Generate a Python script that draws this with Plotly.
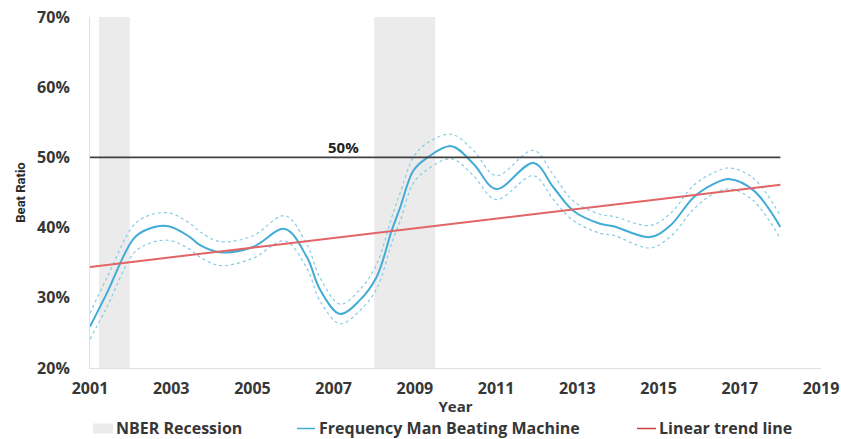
import plotly.graph_objects as go

# ---- data ----
years = [2001.0, 2001.41, 2002.07, 2002.39, 2002.93, 2003.46, 2003.71, 2004.2, 2005.0,
         2005.8, 2006.34, 2006.67, 2007.16, 2007.65, 2008.06, 2008.43, 2008.64, 2008.96,
         2009.29, 2009.9, 2010.44, 2011.0, 2011.92, 2012.41, 2012.9, 2013.56, 2013.89,
         2014.79, 2015.29, 2015.86, 2016.35, 2016.76, 2017.34, 2018.0]
beat = [25.9, 30.6, 38.4, 39.7, 40.2, 38.65, 37.5, 36.5, 37.2,
        39.8, 35.8, 31.1, 27.7, 29.7, 33.0, 39.6, 42.9, 48.1,
        49.9, 51.6, 49.1, 45.5, 49.2, 45.75, 42.4, 40.55, 40.2,
        38.65, 40.3, 44.3, 46.2, 46.9, 45.3, 40.1]
beat_upper = [27.8, 32.8, 40.3, 41.6, 42.1, 40.6, 39.4, 38.0, 38.8,
              41.7, 37.6, 32.8, 29.1, 31.2, 34.8, 41.5, 45.0, 50.0,
              52.0, 53.3, 51.0, 47.4, 51.0, 47.5, 43.8, 41.9, 41.6,
              40.3, 42.0, 46.0, 47.8, 48.5, 47.0, 41.7]
beat_lower = [24.1, 28.6, 36.3, 37.6, 38.2, 36.9, 35.8, 34.6, 35.6,
              38.1, 34.2, 29.5, 26.3, 28.2, 31.3, 37.8, 41.0, 46.3,
              48.2, 49.8, 47.4, 44.0, 47.4, 44.0, 41.0, 39.2, 38.9,
              37.1, 38.7, 42.6, 44.8, 45.5, 43.8, 38.4]
trend_years = [2001, 2018]
trend_vals = [34.4, 46.1]
ref_years = [2001, 2018]
ref_vals = [50, 50]
recession_start = [2001.22, 2008.0]
recession_end = [2001.98, 2009.5]
x_ticks = [2001, 2003, 2005, 2007, 2009, 2011, 2013, 2015, 2017, 2019]
y_ticks = [20, 30, 40, 50, 60, 70]

BLUE = "#42acd6"
BLUE_LIGHT = "#86cbe4"
RED = "#e26464"
GRAY_BAND = "#ebebeb"
TXT = "#363636"
FONT = "Open Sans"

fig = go.Figure()

fig.add_trace(go.Scatter(x=years, y=beat_upper, mode="lines", line=dict(color=BLUE_LIGHT, width=1.2, dash="dot", shape="spline", smoothing=1.0), showlegend=False, hoverinfo="skip"))
fig.add_trace(go.Scatter(x=years, y=beat_lower, mode="lines", line=dict(color=BLUE_LIGHT, width=1.2, dash="dot", shape="spline", smoothing=1.0), showlegend=False, hoverinfo="skip"))
fig.add_trace(go.Scatter(x=years, y=beat, mode="lines", name="Frequency Man Beating Machine", line=dict(color=BLUE, width=2, shape="spline", smoothing=1.0), showlegend=False))
fig.add_trace(go.Scatter(x=ref_years, y=ref_vals, mode="lines", line=dict(color="#404040", width=1.6), showlegend=False, hoverinfo="skip"))
fig.add_trace(go.Scatter(x=trend_years, y=trend_vals, mode="lines", name="Linear trend line", line=dict(color=RED, width=2), showlegend=False))

shapes = []
for s, e in zip(recession_start, recession_end):
    shapes.append(dict(type="rect", xref="x", yref="paper", x0=s, x1=e, y0=0, y1=1,
                       fillcolor=GRAY_BAND, line=dict(width=0), layer="below"))

# manual legend (paper coordinates from pixel layout: plot x 90..821, y 17..368)
def px_x(p):
    return (p - 90) / 731.0

def px_y(p):
    return (368 - p) / 351.0

ly = px_y(428)
sym_y = px_y(428.5)
shapes.append(dict(type="rect", xref="paper", yref="paper", x0=px_x(93), x1=px_x(113), y0=px_y(433.5), y1=px_y(423.5), fillcolor=GRAY_BAND, line=dict(width=0)))
shapes.append(dict(type="line", xref="paper", yref="paper", x0=px_x(297), x1=px_x(315), y0=sym_y, y1=sym_y, line=dict(color=BLUE, width=1.5)))
shapes.append(dict(type="line", xref="paper", yref="paper", x0=px_x(637), x1=px_x(656), y0=sym_y, y1=sym_y, line=dict(color="#d04040", width=1.5)))

legend_font = dict(family=FONT, size=16, color=TXT, weight="bold")
annotations = [
    dict(xref="paper", yref="paper", x=px_x(114), y=ly, text="NBER Recession", showarrow=False, xanchor="left", yanchor="middle", font=legend_font),
    dict(xref="paper", yref="paper", x=px_x(317), y=ly, text="Frequency Man Beating Machine", showarrow=False, xanchor="left", yanchor="middle", font=legend_font),
    dict(xref="paper", yref="paper", x=px_x(657), y=ly, text="Linear trend line", showarrow=False, xanchor="left", yanchor="middle", font=legend_font),
    dict(xref="x", yref="y", x=2007.25, y=50, yshift=10, text="50%", showarrow=False, xanchor="center", yanchor="middle", font=dict(family=FONT, size=15, color="#222222", weight="bold")),
]

fig.update_layout(
    width=841, height=439,
    margin=dict(l=90, r=20, t=17, b=71, autoexpand=False),
    paper_bgcolor="white", plot_bgcolor="white",
    shapes=shapes, annotations=annotations,
    showlegend=False,
    xaxis=dict(range=[2001, 2019], tickvals=x_ticks, ticktext=[str(v) for v in x_ticks],
               showgrid=False, zeroline=False, showline=True, linecolor="#e0e0e0", linewidth=1,
               ticks="", ticklabelstandoff=6, automargin=False,
               tickfont=dict(family=FONT, size=16, color=TXT, weight="bold"),
               title=dict(text="Year", standoff=3, font=dict(family=FONT, size=15, color=TXT, weight="bold"))),
    yaxis=dict(range=[20, 70], tickvals=y_ticks, ticktext=[f"{v}%" for v in y_ticks],
               showgrid=False, zeroline=False, showline=True, linecolor="#e0e0e0", linewidth=1,
               ticks="", ticklabelstandoff=16, automargin=False,
               tickfont=dict(family=FONT, size=16, color=TXT, weight="bold"),
               title=dict(text="Beat Ratio", standoff=8, font=dict(family="Roboto", size=13, color="#2a2a2a", weight="bold"))),
)

fig.write_html("out.html", config={"displayModeBar": False},
               post_script="document.body.style.margin='0';document.body.style.overflow='hidden';")
